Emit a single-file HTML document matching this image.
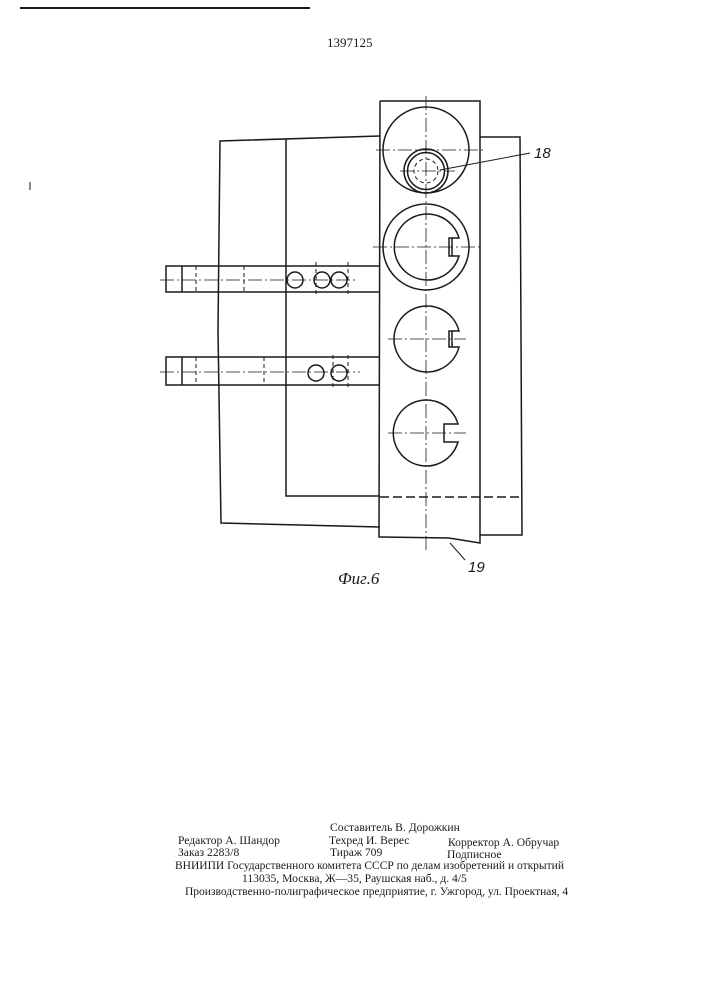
<!DOCTYPE html>
<html><head><meta charset="utf-8"><style>
html,body{margin:0;padding:0;background:#fff;}
body{width:707px;height:1000px;position:relative;overflow:hidden;font-family:"Liberation Serif",serif;color:#1a1a1a;}
.t{position:absolute;font-size:11.6px;white-space:nowrap;line-height:1;}
</style></head><body>
<svg width="707" height="1000" style="position:absolute;left:0;top:0" fill="none" stroke="#1a1a1a" stroke-width="1.5">
<line x1="20" y1="8" x2="310" y2="8" stroke-width="2"/>
<polyline points="380,136 220,141 218,330 221,523 380,527"/>
<polyline points="480,137 520,137 522,535 480,535"/>
<polyline points="286,139 286,496 380,496"/>
<line x1="380" y1="497" x2="522" y2="497" stroke-dasharray="9,4"/>
<polyline points="380,101 480,101 480,543 449,538 379,537 380,101"/>
<g stroke-width="0.8" stroke-dasharray="14,3,2,3">
<line x1="426" y1="96" x2="426" y2="553"/>
<line x1="376" y1="150" x2="485" y2="150"/>
<line x1="400" y1="171" x2="455" y2="171"/>
<line x1="373" y1="247" x2="483" y2="247"/>
<line x1="388" y1="339" x2="466" y2="339"/>
<line x1="388" y1="433" x2="466" y2="433"/>
<line x1="160" y1="280" x2="356" y2="280"/>
<line x1="160" y1="372" x2="360" y2="372"/>
</g>
<circle cx="426" cy="150" r="43"/>
<circle cx="426" cy="171" r="22"/>
<circle cx="426" cy="171" r="18.5"/>
<circle cx="426" cy="171" r="12" stroke-dasharray="4,3" stroke-width="1"/>
<circle cx="426" cy="247" r="43"/>
<path d="M459,238 A33,33 0 1 0 459,256 L449,256 L449,238 Z"/>
<line x1="452" y1="238" x2="452" y2="256"/>
<path d="M459,331 A33,33 0 1 0 459,347 L449,347 L449,331 Z"/>
<line x1="452" y1="331" x2="452" y2="347"/>
<path d="M458,424 A33,33 0 1 0 458,442 L444,442 L444,424 Z"/>
<polyline points="380,266 166,266 166,292 380,292"/>
<line x1="182" y1="266" x2="182" y2="292"/>
<polyline points="380,357 166,357 166,385 380,385"/>
<line x1="182" y1="357" x2="182" y2="385"/>
<g stroke-dasharray="4,3" stroke-width="1">
<line x1="196" y1="266" x2="196" y2="292"/><line x1="244" y1="266" x2="244" y2="292"/>
<line x1="196" y1="357" x2="196" y2="385"/><line x1="264" y1="357" x2="264" y2="385"/>
<line x1="316" y1="262" x2="316" y2="296"/><line x1="348" y1="262" x2="348" y2="296"/>
<line x1="333" y1="355" x2="333" y2="389"/><line x1="348" y1="355" x2="348" y2="389"/>
</g>
<circle cx="295" cy="280" r="8"/>
<circle cx="322" cy="280" r="8"/>
<circle cx="339" cy="280" r="8"/>
<circle cx="316" cy="373" r="8"/>
<circle cx="339" cy="373" r="8"/>
<line x1="440" y1="170" x2="530" y2="153" stroke-width="1"/>
<line x1="450" y1="543" x2="465" y2="560" stroke-width="1"/>
<line x1="30" y1="182" x2="30" y2="190" stroke-width="1"/>
</svg>
<div class="t" style="left:327px;top:36px;font-size:13px;">1397125</div>
<div class="t" style="left:534px;top:146px;font-size:15px;font-style:italic;font-family:'Liberation Sans',sans-serif;">18</div>
<div class="t" style="left:468px;top:560px;font-size:15px;font-style:italic;font-family:'Liberation Sans',sans-serif;">19</div>
<div class="t" style="left:338px;top:570px;font-size:17px;font-style:italic;">Фиг.6</div>
<div class="t" style="left:330px;top:822px;">Составитель В. Дорожкин</div>
<div class="t" style="left:178px;top:835px;">Редактор А. Шандор</div>
<div class="t" style="left:329px;top:835px;">Техред И. Верес</div>
<div class="t" style="left:448px;top:837px;">Корректор А. Обручар</div>
<div class="t" style="left:178px;top:847px;">Заказ 2283/8</div>
<div class="t" style="left:330px;top:847px;">Тираж 709</div>
<div class="t" style="left:447px;top:849px;">Подписное</div>
<div class="t" style="left:175px;top:861px;font-size:11.5px;">ВНИИПИ Государственного комитета СССР по делам изобретений и открытий</div>
<div class="t" style="left:242px;top:873px;">113035, Москва, Ж—35, Раушская наб., д. 4/5</div>
<div class="t" style="left:185px;top:887px;font-size:11.5px;">Производственно-полиграфическое предприятие, г. Ужгород, ул. Проектная, 4</div>
</body></html>
